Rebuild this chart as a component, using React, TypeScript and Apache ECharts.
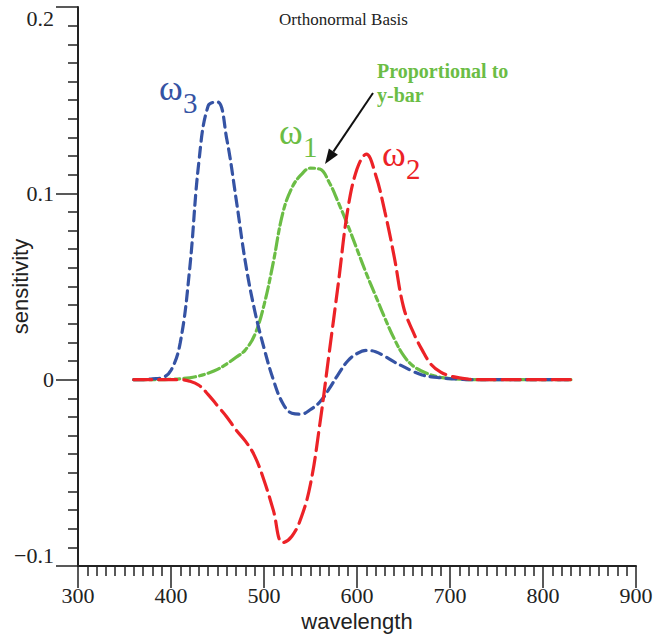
import React, { useEffect, useRef } from "react";
import * as echarts from "echarts";

const wavelengths = [
  360, 370, 380, 390, 400, 410, 420, 430, 440, 450, 460, 470, 480, 490, 500, 510,
  520, 530, 540, 550, 560, 570, 580, 590, 600, 610, 620, 630, 640, 650, 660, 670,
  680, 690, 700, 710, 720, 730, 740, 750, 760, 770, 780, 790, 800, 810, 820, 830,
];

const omega1 = [
  0, 0, 0, 0, 0.0002, 0.0005, 0.001, 0.002, 0.0035, 0.0055, 0.0085, 0.012, 0.016, 0.024, 0.04, 0.063,
  0.089, 0.103, 0.11, 0.1135, 0.113, 0.106, 0.095, 0.083, 0.07, 0.057, 0.045, 0.033, 0.022, 0.013, 0.0075, 0.0045,
  0.0025, 0.0012, 0.0006, 0.0003, 0, 0, 0, 0, 0, 0, 0, 0, 0, 0, 0, 0,
];

const omega2 = [
  0, 0, 0, 0, 0, 0, -0.0008, -0.003, -0.008, -0.014, -0.02, -0.027, -0.033, -0.041, -0.054, -0.07,
  -0.0875, -0.084, -0.074, -0.056, -0.024, 0.014, 0.052, 0.091, 0.113, 0.121, 0.11, 0.09, 0.066, 0.039, 0.026, 0.016,
  0.008, 0.004, 0.002, 0.001, 0.0003, 0, 0, 0, 0, 0, 0, 0, 0, 0, 0, 0,
];

const omega3 = [
  0, 0, 0.0005, 0.001, 0.005, 0.02, 0.059, 0.117, 0.147, 0.149, 0.129, 0.097, 0.063, 0.037, 0.017, 0,
  -0.0125, -0.018, -0.0185, -0.016, -0.012, -0.005, 0.003, 0.01, 0.014, 0.0157, 0.015, 0.0125, 0.0095, 0.007, 0.0045, 0.0025,
  0.0015, 0.001, 0.0005, 0.0003, 0, 0, 0, 0, 0, 0, 0, 0, 0, 0, 0, 0,
];

const xTicks = [300, 400, 500, 600, 700, 800, 900];
const yTicks = [-0.1, 0, 0.1, 0.2];

const BLUE = "#3553a4";
const GREEN = "#6bbd45";
const RED = "#ec2227";
const AXIS = "#222";
const SERIF = "'Liberation Serif', 'Times New Roman', serif";
const SANS = "'Liberation Sans', Arial, sans-serif";

function pairs(vals: number[]) {
  return wavelengths.map((w, i) => [w, vals[i]]);
}

function arrowHead(tail: [number, number], tip: [number, number], len: number, half: number) {
  const dx = tip[0] - tail[0];
  const dy = tip[1] - tail[1];
  const l = Math.sqrt(dx * dx + dy * dy);
  const ux = dx / l;
  const uy = dy / l;
  const bx = tip[0] - ux * len;
  const by = tip[1] - uy * len;
  return {
    base: [bx, by] as [number, number],
    pts: [
      [tip[0], tip[1]],
      [bx - uy * half, by + ux * half],
      [bx + uy * half, by - ux * half],
    ],
  };
}

export default function App() {
  const ref = useRef<HTMLDivElement>(null);
  useEffect(() => {
    if (!ref.current) return;
    const chart = echarts.init(ref.current, null, { renderer: "svg" });
    const tail: [number, number] = [373, 93];
    const tip: [number, number] = [325, 164];
    const head = arrowHead(tail, tip, 15, 5.5);

    const omegaLabel = (x: number, y: number, sub: string, color: string) => [
      {
        type: "text",
        x,
        y,
        style: { text: "ω", fill: color, font: `36px ${SERIF}`, verticalAlign: "middle", align: "left" },
      },
      {
        type: "text",
        x: x + 24,
        y: y + 15,
        style: { text: sub, fill: color, font: `29px ${SERIF}`, verticalAlign: "middle", align: "left" },
      },
    ];

    chart.setOption({
      animation: false,
      title: {
        text: "Orthonormal Basis",
        left: 274,
        top: 6,
        textStyle: { fontFamily: SERIF, fontSize: 17, fontWeight: "normal", color: AXIS },
      },
      grid: { left: 78, right: 18, top: 7, bottom: 68, outerBoundsMode: "none", containLabel: false },
      xAxis: {
        type: "value",
        min: xTicks[0],
        max: xTicks[xTicks.length - 1],
        interval: 100,
        name: "wavelength",
        nameLocation: "middle",
        nameGap: 44,
        nameMoveOverlap: false,
        nameTextStyle: { fontFamily: SANS, fontSize: 22, color: AXIS },
        axisLine: { onZero: false, lineStyle: { color: AXIS, width: 2 } },
        axisTick: { show: true, length: 22, lineStyle: { color: AXIS, width: 1.5 } },
        minorTick: { show: true, splitNumber: 10, length: 10, lineStyle: { color: AXIS, width: 1.5 } },
        splitLine: { show: false },
        axisLabel: { margin: 18, fontFamily: SERIF, fontSize: 22, color: AXIS },
      },
      yAxis: {
        type: "value",
        min: yTicks[0],
        max: yTicks[yTicks.length - 1],
        interval: 0.1,
        name: "sensitivity",
        nameLocation: "middle",
        nameGap: 47,
        nameMoveOverlap: false,
        nameTextStyle: { fontFamily: SANS, fontSize: 22, color: AXIS },
        axisLine: { onZero: false, lineStyle: { color: AXIS, width: 2 } },
        axisTick: { show: true, length: 22, lineStyle: { color: AXIS, width: 1.5 } },
        minorTick: { show: true, splitNumber: 10, length: 10, lineStyle: { color: AXIS, width: 1.5 } },
        splitLine: { show: false },
        axisLabel: {
          margin: 24,
          fontFamily: SERIF,
          fontSize: 22,
          color: AXIS,
          verticalAlignMinLabel: "bottom",
          verticalAlignMaxLabel: "top",
          formatter: (v: number) => {
            const r = Math.round(v * 10) / 10;
            if (r === 0) return "0";
            return r < 0 ? "\u2212" + Math.abs(r).toFixed(1) : r.toFixed(1);
          },
        },
      },
      series: [
        {
          name: "ω3",
          type: "line",
          data: pairs(omega3),
          showSymbol: false,
          smooth: 0.4,
          z: 3,
          lineStyle: { color: BLUE, width: 3.2, type: [10, 6], cap: "round" },
        },
        {
          name: "ω1",
          type: "line",
          data: pairs(omega1),
          showSymbol: false,
          smooth: 0.4,
          z: 2,
          lineStyle: { color: GREEN, width: 3.2, type: [12, 4, 5, 4], cap: "round" },
        },
        {
          name: "ω2",
          type: "line",
          data: pairs(omega2),
          showSymbol: false,
          smooth: 0.4,
          z: 4,
          lineStyle: { color: RED, width: 3.2, type: [18, 7], cap: "round" },
        },
      ],
      graphic: [
        ...omegaLabel(159, 88, "3", BLUE),
        ...omegaLabel(279, 132, "1", GREEN),
        ...omegaLabel(382, 154, "2", RED),
        {
          type: "text",
          x: 377,
          y: 71,
          style: {
            text: "Proportional to",
            fill: GREEN,
            font: `bold 20px ${SERIF}`,
            verticalAlign: "middle",
            align: "left",
          },
        },
        {
          type: "text",
          x: 377,
          y: 95,
          style: {
            text: "y-bar",
            fill: GREEN,
            font: `bold 20px ${SERIF}`,
            verticalAlign: "middle",
            align: "left",
          },
        },
        {
          type: "line",
          shape: { x1: tail[0], y1: tail[1], x2: head.base[0], y2: head.base[1] },
          style: { stroke: "#111", lineWidth: 2 },
        },
        {
          type: "polygon",
          shape: { points: head.pts },
          style: { fill: "#111" },
        },
      ],
    });
    return () => chart.dispose();
  }, []);
  return (
    <div
      ref={ref}
      style={{ position: "fixed", left: 0, top: 0, width: 654, height: 634, background: "#fff" }}
    />
  );
}
